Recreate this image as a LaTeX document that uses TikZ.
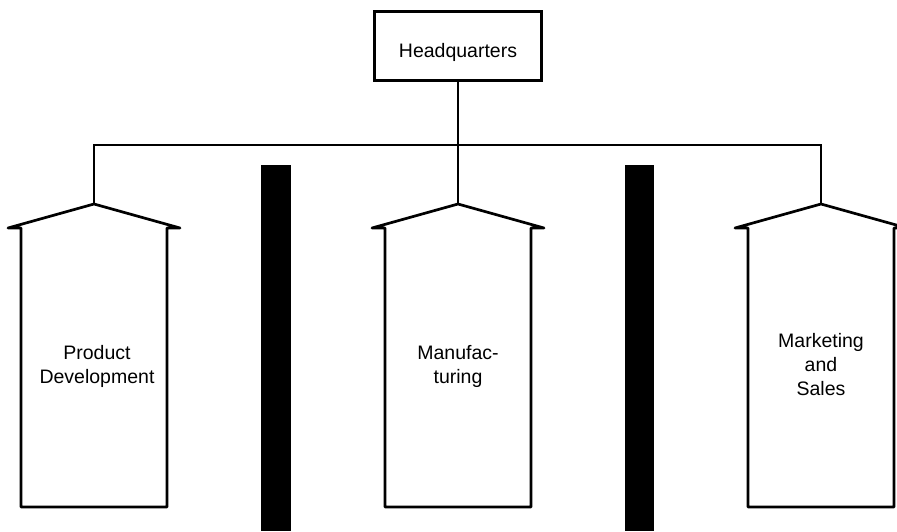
\documentclass[tikz,border=0pt]{standalone}
\usepackage{fontspec}
\setmainfont{Liberation Sans}

\begin{document}
\begin{tikzpicture}[x=1pt,y=-1pt,
  unit/.style={line width=2.7pt, line join=round},
  link/.style={line width=1.5pt},
  wallbar/.style={fill=black},
  lbl/.style={align=center, font=\fontsize{19.5}{24}\selectfont}]

\useasboundingbox (0,0) rectangle (897,531);

 \node[draw, line width=3pt, minimum width=167pt, minimum height=69pt,
   text height=26pt, text depth=4pt, font=\fontsize{19.5}{24}\selectfont] (hq) at (458,46) {Headquarters};

 \foreach \x/\n in {94/pd, 458/mf, 821/ms}{
   \draw[unit] (\x-86,228) -- (\x-73,228) -- (\x-73,507) -- (\x+73,507)
     -- (\x+73,228) -- (\x+86,228) -- (\x,204) -- cycle;
   \coordinate (\n) at (\x,204);
 }

  \node[lbl] (pdl) at (97,366) {Product\\Development};
   \node[lbl] (mfl) at (458,366) {Manufac-\\turing};
    \node[lbl] (msl) at (821,365) {Marketing\\and\\Sales};

 \fill[wallbar] (261,165) rectangle (291,531);
 \fill[wallbar] (625,165) rectangle (654,531);

 \coordinate (bus) at (458,145);
 \draw[link] (hq.south) -- (bus) -- (mf);
 \draw[link] (pd) |- (bus) -| (ms);

\end{tikzpicture}
\end{document}
